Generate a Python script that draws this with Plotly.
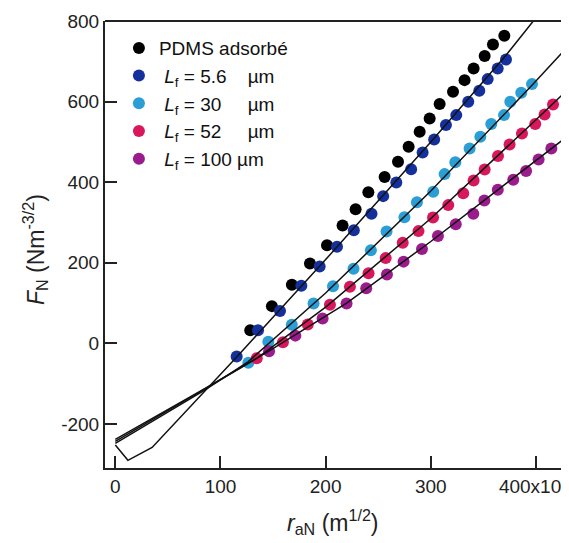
import plotly.graph_objects as go

# ---- data (x in 1e-6 m^1/2, y in N m^-3/2) ----
pdms_x = [128.3, 148.9, 167.9, 185.1, 201.3, 216.1, 228.5, 240.6, 256.1, 268.8,
          278.9, 289.4, 298.9, 308.4, 321.1, 332.1, 340.7, 351.2, 359.1, 369.9]
pdms_y = [33, 92.6, 145.4, 198.5, 243.9, 292.8, 332.8, 375.4, 412.7, 450.6,
          487.8, 525.1, 558.3, 593.8, 624.3, 653.3, 682.4, 712.9, 741.9, 763.3]

lf56_x = [115.4, 135.7, 156.6, 176.9, 194.3, 210.8, 226.8, 243.6, 254.7, 267.2,
          281.3, 292.2, 303.2, 314.4, 324.2, 335.6, 346.1, 354.1, 363.6, 371.5]
lf56_y = [-32.3, 33, 80.6, 142.9, 190.8, 239.7, 281.1, 321.6, 365.5, 399.5,
          432, 474, 506.2, 541.7, 566.5, 599.5, 626.8, 655.8, 682.4, 704.7]

lf30_x = [126.5, 145.5, 167.8, 188.5, 207, 226.5, 243, 257.9, 274.9, 286.8,
          302.3, 313.1, 323.3, 336.9, 347.1, 357.5, 369.6, 375.6, 386, 396.2]
lf30_y = [-47.6, 4.5, 46.2, 99.3, 141.7, 185.1, 231.5, 277.9, 312.9, 350.6,
          376.2, 420.1, 449.4, 483.9, 512.7, 544.2, 566.5, 599.5, 621.8, 643.4]

lf52_x = [134.5, 159.4, 183, 204.1, 223.1, 240.8, 257.1, 273.3, 288.3, 302.1,
          316.6, 330.8, 340.7, 351.2, 363.9, 374.9, 386.7, 399.3, 408.2, 416.2]
lf52_y = [-36.5, 3.2, 47.1, 95.8, 140.4, 174.4, 211.7, 249.6, 278.7, 312.7,
          343.2, 372.5, 404.5, 431.3, 464.8, 493.8, 521.1, 544.2, 568.2, 593.1]

lf100_x = [146.2, 171.2, 197.1, 219.9, 238.6, 258.3, 274.1, 291.6, 306.8, 323.7,
           340.4, 350.9, 363.7, 378.4, 390.6, 402.5, 414.6]
lf100_y = [-19.1, 19.4, 62, 99.3, 137.2, 171.2, 203, 234.5, 266.7, 296,
           321.6, 354.6, 381.4, 406.2, 428, 456.6, 483.9]

# fit curves
fit56_x = [0, 12, 35, 85, 115, 200, 300, 371.5, 397.5]
fit56_y = [-252, -290, -258, -118, -35, 208, 500, 715, 800]
fit30_x = [0, 85, 126.5, 200, 300, 396, 431.4]
fit30_y = [-248, -116, -45, 125, 378, 640, 740]
fit52_x = [0, 85, 134.5, 200, 300, 400, 431.4]
fit52_y = [-243, -114, -37, 90, 310, 555, 633]
fit100_x = [0, 85, 146, 220, 300, 400, 431.4]
fit100_y = [-238, -112, -19, 100, 253, 455, 517]

x_ticks = [0, 100, 200, 300, 400]
x_ticktext = ["0", "100", "200", "300", "400x10<sup>-6</sup>"]
y_ticks = [-200, 0, 200, 400, 600, 800]
y_ticktext = ["-200", "0", "200", "400", "600", "800"]

series = [
    ("PDMS adsorbé", pdms_x, pdms_y, "#000000"),
    ("\u00a0<i>L</i><sub>f</sub> = 5.6\u00a0\u00a0\u00a0\u00a0µm", lf56_x, lf56_y, "#14309c"),
    ("\u00a0<i>L</i><sub>f</sub> = 30\u00a0\u00a0\u00a0\u00a0\u00a0µm", lf30_x, lf30_y, "#2b9ed6"),
    ("\u00a0<i>L</i><sub>f</sub> = 52\u00a0\u00a0\u00a0\u00a0\u00a0µm", lf52_x, lf52_y, "#d8175c"),
    ("\u00a0<i>L</i><sub>f</sub> = 100 µm", lf100_x, lf100_y, "#9a1c8c"),
]
fits = [(fit56_x, fit56_y), (fit30_x, fit30_y), (fit52_x, fit52_y), (fit100_x, fit100_y)]

FONT = "Liberation Sans, Arial, sans-serif"

fig = go.Figure()
for name, xs, ys, col in series:
    fig.add_trace(go.Scatter(x=xs, y=ys, mode="markers", name=name,
                             marker=dict(color=col, size=12, line=dict(width=0))))
for fx, fy in fits:
    fig.add_trace(go.Scatter(x=fx, y=fy, mode="lines", showlegend=False,
                             line=dict(color="#111111", width=1.5)))

# page body has an 8px margin: shrink the figure and margins so the
# plot area lands where it sits in the reference
fig.update_layout(
    width=561, height=535,
    margin=dict(l=97, r=0, t=13, b=75),
    paper_bgcolor="white", plot_bgcolor="white",
    font=dict(family=FONT, size=19, color="#222222"),
    legend=dict(x=0.03, y=0.982, xanchor="left", yanchor="top",
                bgcolor="rgba(0,0,0,0)", font=dict(size=19, color="#111111"),
                itemwidth=30, tracegroupgap=0),
    xaxis=dict(range=[-9.8, 431.4], tickvals=x_ticks, ticktext=x_ticktext,
               ticks="inside", ticklen=12, tickwidth=1.5, tickcolor="#222",
               showline=True, linecolor="#222", linewidth=2, showgrid=False,
               zeroline=False, automargin=False, ticklabeloverflow="allow"),
    yaxis=dict(range=[-309, 800], tickvals=y_ticks, ticktext=y_ticktext,
               ticks="inside", ticklen=12, tickwidth=1.5, tickcolor="#222",
               showline=True, linecolor="#222", linewidth=2, showgrid=False,
               zeroline=False, automargin=False, ticklabeloverflow="allow"),
    shapes=[dict(type="line", xref="paper", yref="paper", x0=0, x1=1, y0=1, y1=1,
                 line=dict(color="#222", width=2))],
    annotations=[
        dict(text="<i>F</i><sub>N</sub> (Nm<sup>-3/2</sup>)", xref="paper", yref="paper",
             x=(35 - 105) / 464, y=(468 - 250) / 447, textangle=-90,
             xanchor="center", yanchor="middle", showarrow=False,
             font=dict(size=23, color="#222")),
        dict(text="<i>r</i><sub>aN</sub> (m<sup>1/2</sup>)", xref="paper", yref="paper",
             x=(333 - 105) / 464, y=(468 - 522) / 447,
             xanchor="center", yanchor="middle", showarrow=False,
             font=dict(size=23, color="#222")),
    ],
)

fig.write_html("out.html")
